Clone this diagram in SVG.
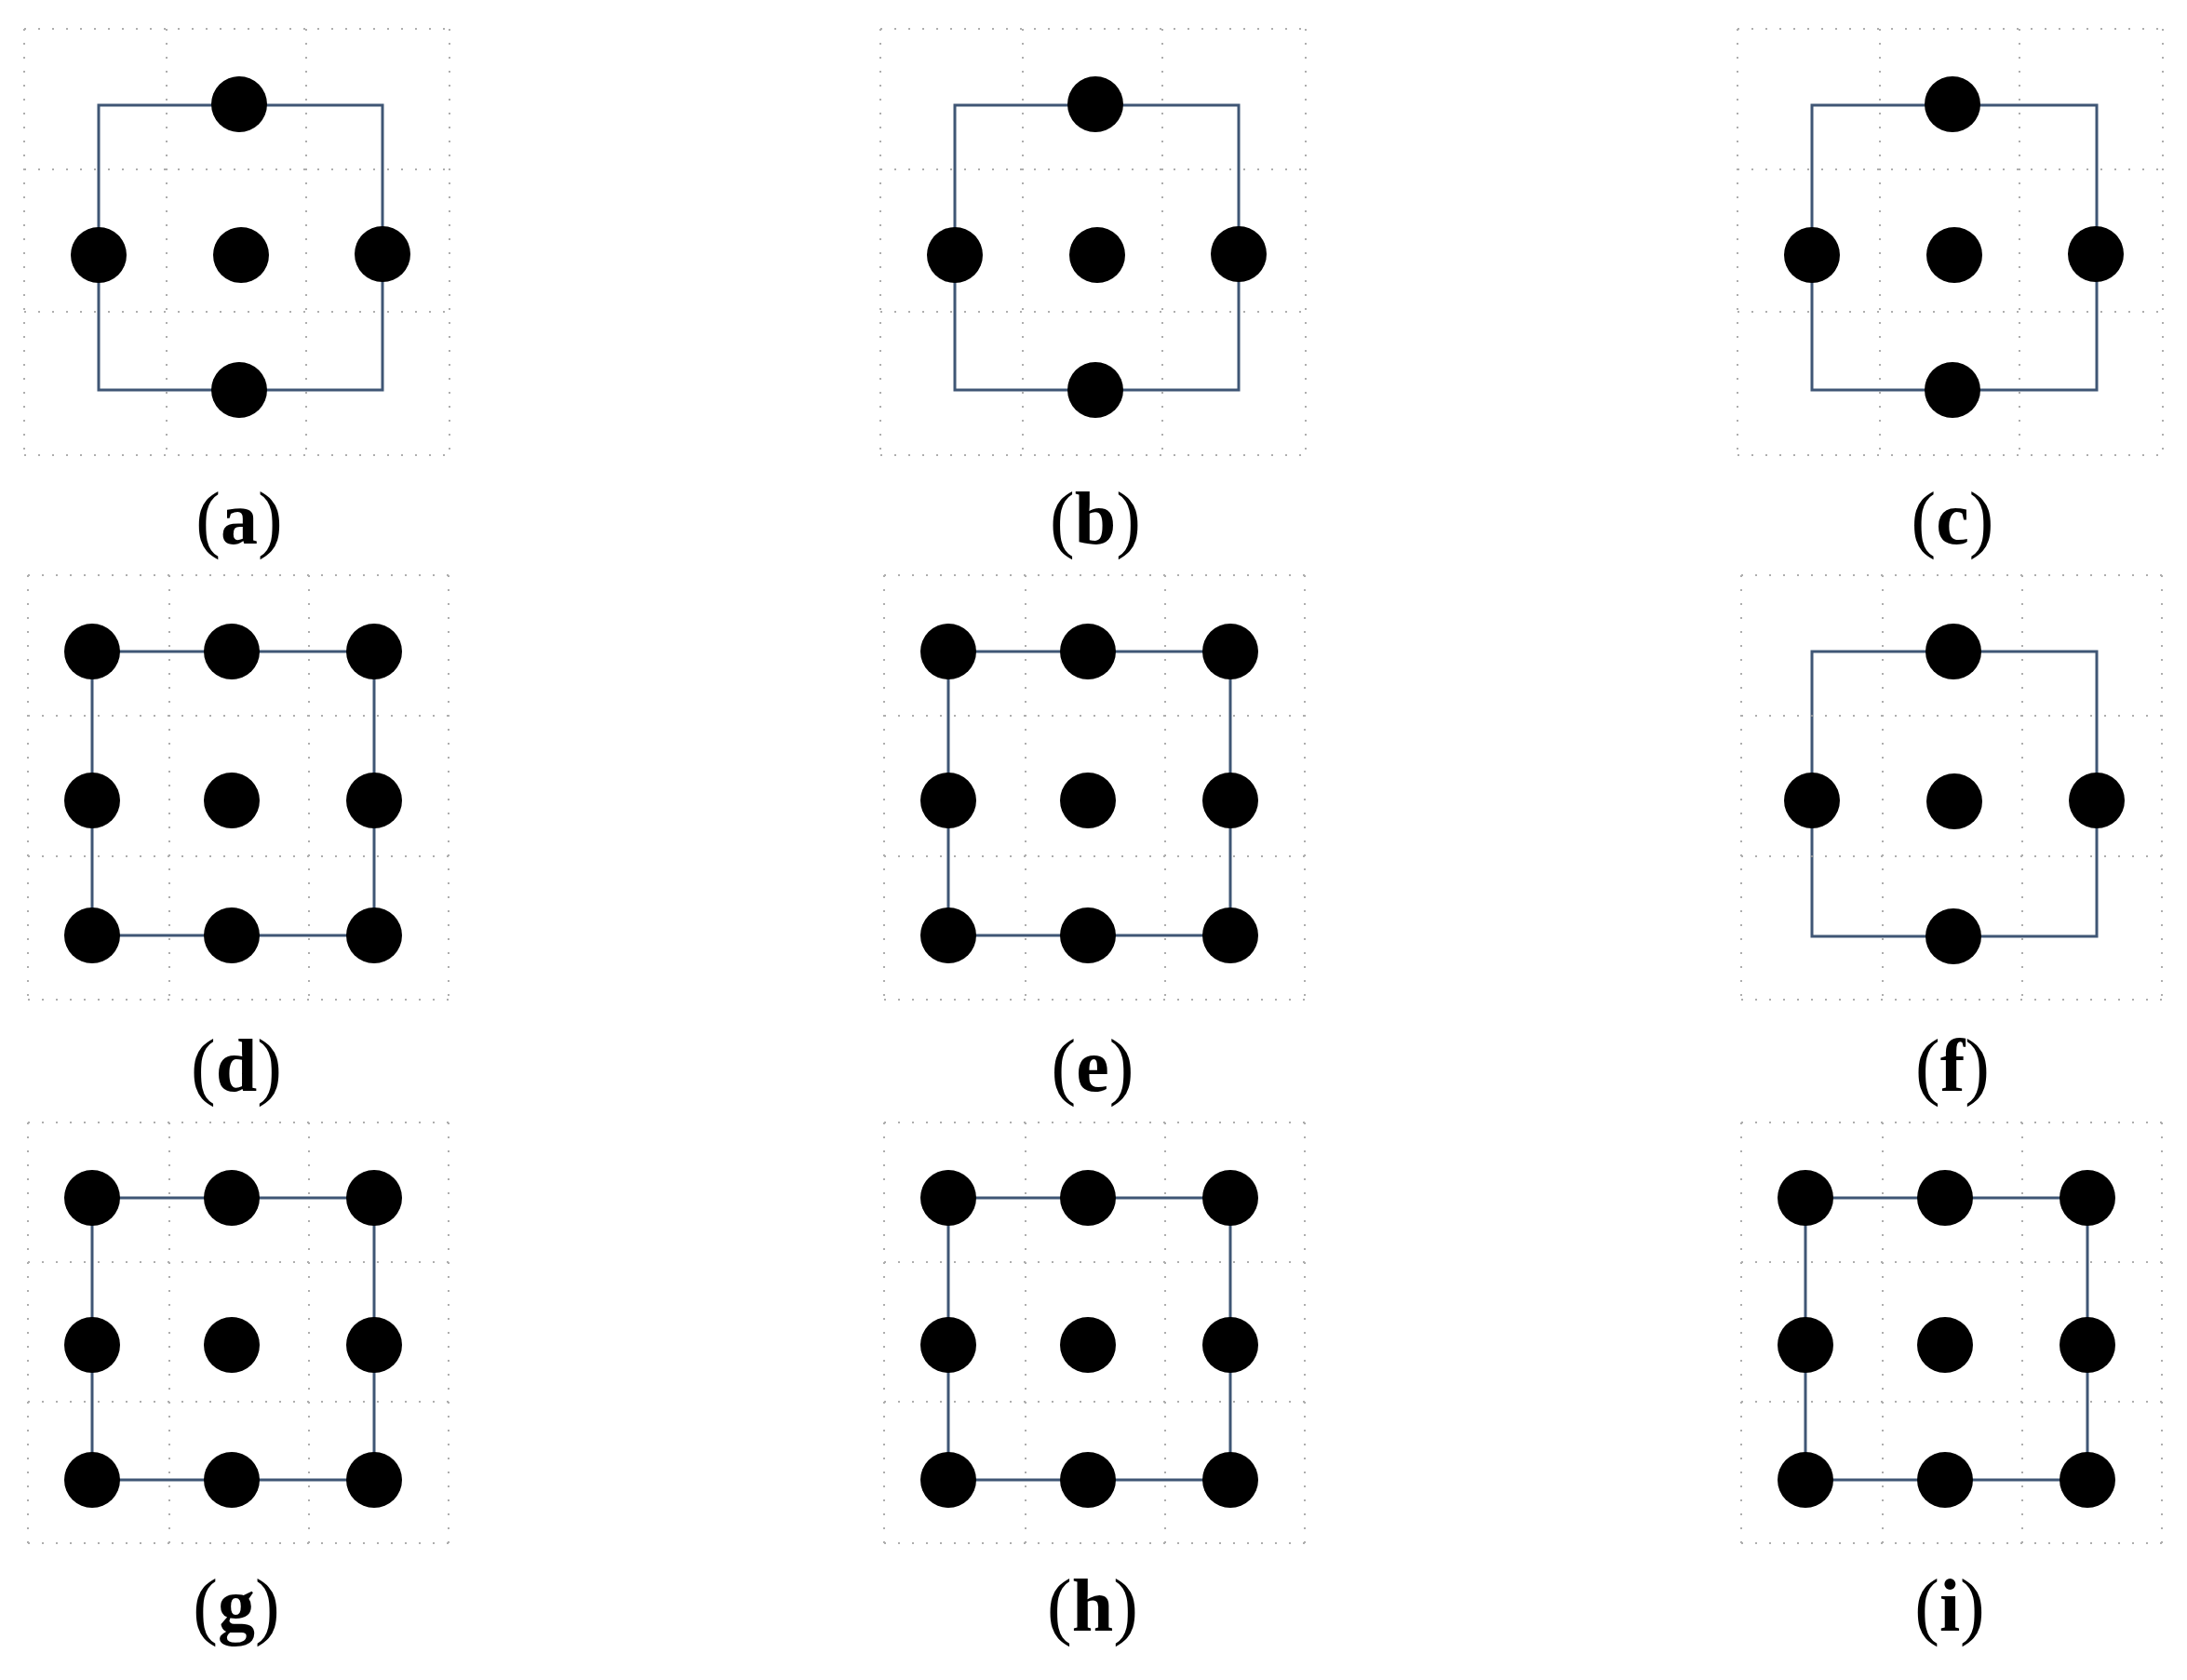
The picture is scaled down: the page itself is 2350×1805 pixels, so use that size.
<svg xmlns="http://www.w3.org/2000/svg" width="2350" height="1805" viewBox="0 0 2350 1805">
<style>
.g{stroke:#9a9a9a;stroke-width:2;stroke-dasharray:2 13;fill:none;opacity:.8}
.e{stroke:#3f5675;stroke-width:3;fill:none}
.d{fill:#000}
.t{font-family:"Liberation Serif",serif;font-size:80px;text-anchor:middle;fill:#000}
.t tspan{font-weight:bold}
</style>
<rect width="2350" height="1805" fill="#fff"/>
<defs>
<g id="grid1"><path class="g" d="M26 31H483M26 182H483M26 335H483M26 489H483M26 31V489M179 31V489M329 31V489M483 31V489"/></g>
<g id="grid2"><path class="g" d="M30 618H482M30 769H482M30 920H482M30 1074H482M30 618V1074M182 618V1074M332 618V1074M482 618V1074"/></g>
<g id="grid3"><path class="g" d="M30 1206H482M30 1356H482M30 1506H482M30 1658H482M30 1206V1658M182 1206V1658M332 1206V1658M482 1206V1658"/></g>
</defs>
<g id="connectors">
<rect class="e" x="106" y="113" width="305" height="306"/>
<rect class="e" x="1026" y="113" width="305" height="306"/>
<rect class="e" x="1947" y="113" width="306" height="306"/>
<rect class="e" x="99" y="700" width="303" height="305"/>
<rect class="e" x="1019" y="700" width="303" height="305"/>
<rect class="e" x="1947" y="700" width="306" height="306"/>
<rect class="e" x="99" y="1287" width="303" height="303"/>
<rect class="e" x="1019" y="1287" width="303" height="303"/>
<rect class="e" x="1940" y="1287" width="303" height="303"/>
</g>
<g id="panel-a">
<use href="#grid1"/>
<g class="d"><circle cx="257" cy="112" r="30"/><circle cx="106" cy="274" r="30"/><circle cx="259" cy="274" r="30"/><circle cx="411" cy="273" r="30"/><circle cx="257" cy="419" r="30"/></g>
<text class="t" x="257" y="584">(<tspan>a</tspan>)</text>
</g>
<g id="panel-b" transform="translate(920 0)">
<use href="#grid1"/>
<g class="d"><circle cx="257" cy="112" r="30"/><circle cx="106" cy="274" r="30"/><circle cx="259" cy="274" r="30"/><circle cx="411" cy="273" r="30"/><circle cx="257" cy="419" r="30"/></g>
<text class="t" x="257" y="584">(<tspan>b</tspan>)</text>
</g>
<g id="panel-c" transform="translate(1841 0)">
<use href="#grid1"/>
<g class="d"><circle cx="257" cy="112" r="30"/><circle cx="106" cy="274" r="30"/><circle cx="259" cy="274" r="30"/><circle cx="411" cy="273" r="30"/><circle cx="257" cy="419" r="30"/></g>
<text class="t" x="257" y="584">(<tspan>c</tspan>)</text>
</g>
<g id="panel-d">
<use href="#grid2"/>
<g class="d"><circle cx="99" cy="700" r="30"/><circle cx="249" cy="700" r="30"/><circle cx="402" cy="700" r="30"/><circle cx="99" cy="860" r="30"/><circle cx="249" cy="860" r="30"/><circle cx="402" cy="860" r="30"/><circle cx="99" cy="1005" r="30"/><circle cx="249" cy="1005" r="30"/><circle cx="402" cy="1005" r="30"/></g>
<text class="t" x="254" y="1172">(<tspan>d</tspan>)</text>
</g>
<g id="panel-e" transform="translate(920 0)">
<use href="#grid2"/>
<g class="d"><circle cx="99" cy="700" r="30"/><circle cx="249" cy="700" r="30"/><circle cx="402" cy="700" r="30"/><circle cx="99" cy="860" r="30"/><circle cx="249" cy="860" r="30"/><circle cx="402" cy="860" r="30"/><circle cx="99" cy="1005" r="30"/><circle cx="249" cy="1005" r="30"/><circle cx="402" cy="1005" r="30"/></g>
<text class="t" x="254" y="1172">(<tspan>e</tspan>)</text>
</g>
<g id="panel-f" transform="translate(1841 0)">
<use href="#grid2"/>
<g class="d"><circle cx="258" cy="700" r="30"/><circle cx="106" cy="860" r="30"/><circle cx="259" cy="861" r="30"/><circle cx="412" cy="860" r="30"/><circle cx="258" cy="1006" r="30"/></g>
<text class="t" x="257" y="1172">(<tspan>f</tspan>)</text>
</g>
<g id="panel-g">
<use href="#grid3"/>
<g class="d"><circle cx="99" cy="1287" r="30"/><circle cx="249" cy="1287" r="30"/><circle cx="402" cy="1287" r="30"/><circle cx="99" cy="1445" r="30"/><circle cx="249" cy="1445" r="30"/><circle cx="402" cy="1445" r="30"/><circle cx="99" cy="1590" r="30"/><circle cx="249" cy="1590" r="30"/><circle cx="402" cy="1590" r="30"/></g>
<text class="t" x="254" y="1752">(<tspan>g</tspan>)</text>
</g>
<g id="panel-h" transform="translate(920 0)">
<use href="#grid3"/>
<g class="d"><circle cx="99" cy="1287" r="30"/><circle cx="249" cy="1287" r="30"/><circle cx="402" cy="1287" r="30"/><circle cx="99" cy="1445" r="30"/><circle cx="249" cy="1445" r="30"/><circle cx="402" cy="1445" r="30"/><circle cx="99" cy="1590" r="30"/><circle cx="249" cy="1590" r="30"/><circle cx="402" cy="1590" r="30"/></g>
<text class="t" x="254" y="1752">(<tspan>h</tspan>)</text>
</g>
<g id="panel-i" transform="translate(1841 0)">
<use href="#grid3"/>
<g class="d"><circle cx="99" cy="1287" r="30"/><circle cx="249" cy="1287" r="30"/><circle cx="402" cy="1287" r="30"/><circle cx="99" cy="1445" r="30"/><circle cx="249" cy="1445" r="30"/><circle cx="402" cy="1445" r="30"/><circle cx="99" cy="1590" r="30"/><circle cx="249" cy="1590" r="30"/><circle cx="402" cy="1590" r="30"/></g>
<text class="t" x="254" y="1752">(<tspan>i</tspan>)</text>
</g>
</svg>
